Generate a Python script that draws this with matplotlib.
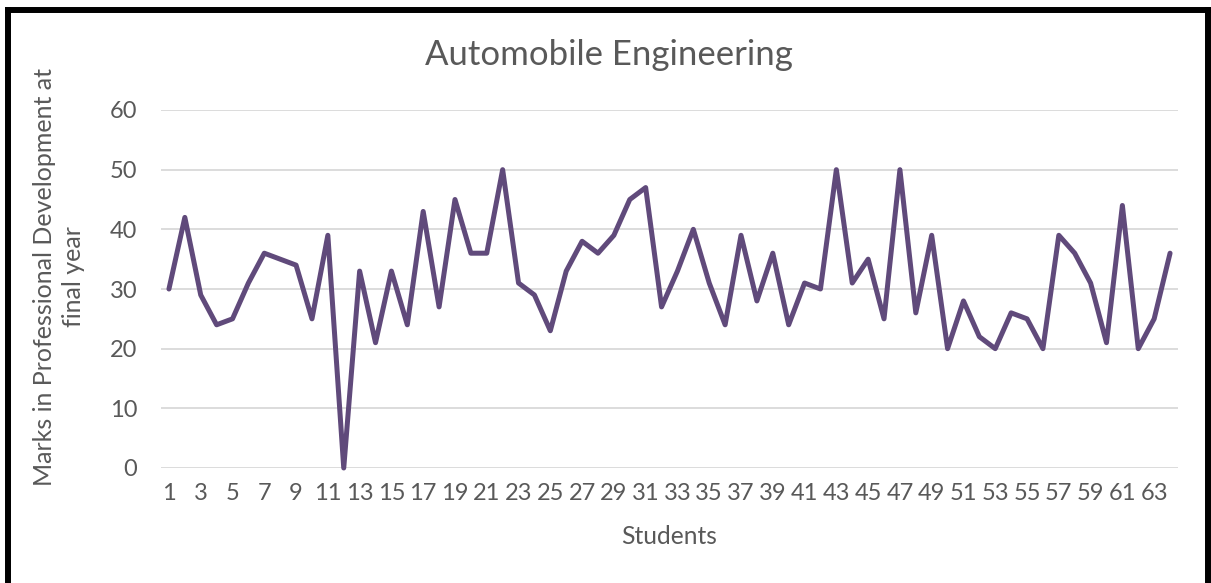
import matplotlib.pyplot as plt
from matplotlib.lines import Line2D
import numpy as np

# --- data ---
students = list(range(1, 65))
marks = [30, 42, 29, 24, 25, 31, 36, 35, 34, 25,
         39, 0, 33, 21, 33, 24, 43, 27, 45, 36,
         36, 50, 31, 29, 23, 33, 38, 36, 39, 45,
         47, 27, 33, 40, 31, 24, 39, 28, 36, 24,
         31, 30, 50, 31, 35, 25, 50, 26, 39, 20,
         28, 22, 20, 26, 25, 20, 39, 36, 31, 21,
         44, 20, 25, 36]
y_ticks = [0, 10, 20, 30, 40, 50, 60]
x_tick_labels = [str(s) for s in students if s % 2 == 1]

TEXT = '#595959'
GRID = '#d9d9d9'
LINE = '#604a7b'
W, H = 1211, 583
FS = 17

plt.rcParams['font.family'] = ['Lato', 'DejaVu Sans']

fig = plt.figure(figsize=(W / 100, H / 100), dpi=100, facecolor='white')
ax = fig.add_axes([161 / W, 1 - 468 / H, (1178 - 161) / W, (468 - 110) / H])

# category axis: points sit in the middle of each slot
x = np.arange(len(students))
ax.plot(x, marks, color=LINE, linewidth=3.6, solid_joinstyle='round',
        solid_capstyle='round', zorder=3, clip_on=False)

ax.set_xlim(-0.5, len(students) - 0.5)
ax.set_ylim(0, 60)
ax.set_yticks(y_ticks)
ax.set_xticks(x[::2])
ax.set_xticklabels(x_tick_labels)
ax.grid(axis='y', color=GRID, linewidth=1.3, zorder=0)
ax.tick_params(axis='both', length=0, colors=TEXT, labelsize=FS)
ax.tick_params(axis='y', pad=17)
ax.tick_params(axis='x', pad=11)
for s in ax.spines.values():
    s.set_visible(False)

ax.set_xlabel('Students', color=TEXT, fontsize=17.7, labelpad=15)
fig.text(609 / W, 1 - 55 / H, 'Automobile Engineering', color=TEXT,
         fontsize=25, ha='center', va='center')
fig.text(59 / W, 1 - 277 / H, 'Marks in Professional Development at\nfinal year',
         color=TEXT, fontsize=18, ha='center', va='center', rotation=90,
         multialignment='center', linespacing=1.35)

# black frame around the chart (bottom edge runs off the picture)
lw = 4.3
fig.add_artist(Line2D([8 / W, 8 / W], [0, 1 - 10 / H], color='black', linewidth=lw,
                      transform=fig.transFigure, solid_capstyle='projecting'))
fig.add_artist(Line2D([8 / W, 1208 / W], [1 - 10 / H, 1 - 10 / H], color='black',
                      linewidth=lw, transform=fig.transFigure, solid_capstyle='projecting'))
fig.add_artist(Line2D([1208 / W, 1208 / W], [0, 1 - 10 / H], color='black', linewidth=lw,
                      transform=fig.transFigure, solid_capstyle='projecting'))

fig.savefig('out.png', dpi=100, facecolor='white')
